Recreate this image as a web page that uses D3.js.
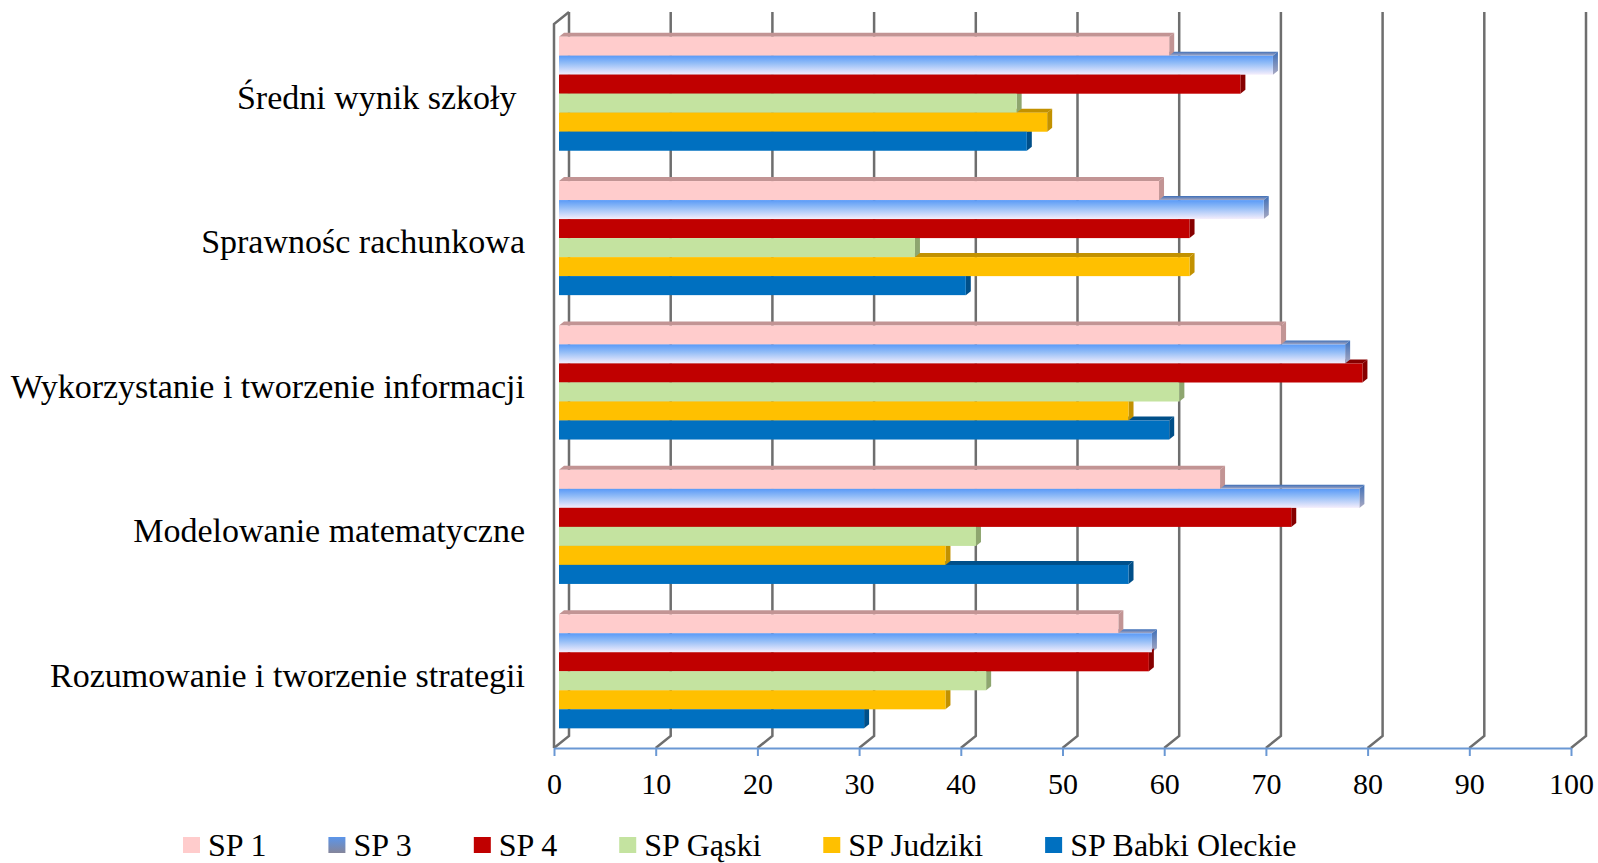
<!DOCTYPE html>
<html>
<head>
<meta charset="utf-8">
<script src="https://cdn.jsdelivr.net/npm/d3@7"></script>
<style>
  body { margin: 0; background: #fff; }
  svg { display: block; font-family: "Liberation Serif", "Times New Roman", serif; }
</style>
</head>
<body>
<div id="chart"></div>
<script>
const categories = ["Średni wynik szkoły ", "Sprawnośc rachunkowa", "Wykorzystanie i tworzenie informacji", "Modelowanie matematyczne", "Rozumowanie i tworzenie strategii"];
const seriesNames = ["SP 1", "SP 3", "SP 4", "SP Gąski", "SP Judziki", "SP Babki Oleckie"];
const sp1 = [60, 59, 71, 65, 55];
const sp3 = [70.2, 69.3, 77.3, 78.7, 58.3];
const sp4 = [67, 62, 79, 72, 58];
const spGaski = [45, 35, 61, 41, 42];
const spJudziki = [48, 62, 56, 38, 38];
const spBabki = [46, 40, 60, 56, 30];
const tickValues = [0, 10, 20, 30, 40, 50, 60, 70, 80, 90, 100];

const seriesValues = [sp1, sp3, sp4, spGaski, spJudziki, spBabki];
const frontColors = ["#ffcccc", "url(#gradSp3)", "#c00000", "#c4e3a0", "#ffc000", "#0070c0"];
const sideColors = ["#c29494", "url(#gradSp3Side)", "#860000", "#8ea66f", "#c29100", "#004f89"];
const legendColors = ["#ffcccc", "url(#gradSp3Legend)", "#c00000", "#c4e3a0", "#ffc000", "#0070c0"];

const width = 1598, height = 863;
const depthX = 15, depthY = -12;   // wall depth
const barDX = 5, barDY = -4;       // bar depth

const svg = d3.select("#chart").append("svg")
    .attr("width", width)
    .attr("height", height);

const defs = svg.append("defs");
function linGrad(id, stops) {
    const g = defs.append("linearGradient").attr("id", id)
        .attr("x1", 0).attr("y1", 0).attr("x2", 0).attr("y2", 1);
    stops.forEach(s => g.append("stop").attr("offset", s[0]).attr("stop-color", s[1]));
}
linGrad("gradSp3", [["0%", "#5a9af7"], ["40%", "#93bdf7"], ["100%", "#f5eefc"]]);
linGrad("gradSp3Side", [["0%", "#3e6fb8"], ["100%", "#a9a9c2"]]);
linGrad("gradSp3Legend", [["0%", "#5b95ea"], ["100%", "#85859a"]]);

const x = d3.scaleLinear().domain([0, 100]).range([554, 1571]);
const y = d3.scaleBand().domain(categories).range([21.5, 743.5])
    .paddingInner(0.21).paddingOuter(0.105);
const ySeries = d3.scaleBand().domain(seriesNames).range([0, y.bandwidth()]);

const floorY = 748, topY = 24;

// back wall gridlines + floor diagonals
const grid = svg.append("g").attr("class", "grid")
    .attr("stroke", "#6e6e6e").attr("stroke-width", 2.5).attr("fill", "none");
grid.selectAll(".gline")
    .data(tickValues)
    .enter().append("path")
    .attr("class", "gline")
    .attr("d", d => `M${x(d)},${floorY}L${x(d) + depthX},${floorY + depthY}L${x(d) + depthX},${topY + depthY}`);
// left wall
grid.append("path")
    .attr("d", `M${x(0)},${floorY}L${x(0)},${topY}L${x(0) + depthX},${topY + depthY}`);

// bars
const barData = [];
categories.forEach((c, ci) => {
    seriesNames.forEach((s, si) => {
        barData.push({ cat: c, series: s, si: si, value: seriesValues[si][ci] });
    });
});
const bx0 = d => x(0) + barDX;
const bx1 = d => x(d.value) + barDX;
const by0 = d => y(d.cat) + ySeries(d.series);
const by1 = d => by0(d) + ySeries.bandwidth();

const bars = svg.append("g").attr("class", "bars");
// top faces
bars.selectAll(".bar-top")
    .data(barData)
    .enter().append("path")
    .attr("class", "bar-top")
    .attr("fill", d => sideColors[d.si])
    .attr("d", d => `M${bx0(d)},${by0(d)}L${bx0(d) + barDX},${by0(d) + barDY}L${bx1(d) + barDX},${by0(d) + barDY}L${bx1(d)},${by0(d)}Z`);
// side faces
bars.selectAll(".bar-side")
    .data(barData)
    .enter().append("path")
    .attr("class", "bar-side")
    .attr("fill", d => sideColors[d.si])
    .attr("d", d => `M${bx1(d)},${by0(d)}L${bx1(d) + barDX},${by0(d) + barDY}L${bx1(d) + barDX},${by1(d) + barDY}L${bx1(d)},${by1(d)}Z`);
// front faces
bars.selectAll(".bar-front")
    .data(barData)
    .enter().append("rect")
    .attr("class", "bar-front")
    .attr("x", bx0)
    .attr("y", by0)
    .attr("width", d => bx1(d) - bx0(d))
    .attr("height", ySeries.bandwidth())
    .attr("fill", d => frontColors[d.si]);

// x axis
const axis = svg.append("g")
    .attr("class", "x-axis")
    .attr("transform", `translate(0,${floorY})`)
    .call(d3.axisBottom(x).tickValues(tickValues).tickSize(8).tickSizeOuter(0));
axis.select(".domain").attr("stroke", "#6a98d4").attr("stroke-width", 2);
axis.selectAll(".tick line").attr("stroke", "#6a98d4").attr("stroke-width", 2);
axis.selectAll(".tick text")
    .attr("y", 46)
    .attr("dy", null)
    .attr("fill", "#000")
    .style("font-size", "30px")
    .style("font-family", "Liberation Serif, serif");

// category labels
svg.append("g").attr("class", "cat-labels")
    .selectAll("text")
    .data(categories)
    .enter().append("text")
    .attr("x", 525)
    .attr("y", d => y(d) + y.bandwidth() / 2)
    .attr("dy", "0.45em")
    .attr("text-anchor", "end")
    .style("white-space", "pre")
    .style("font-size", "34px")
    .attr("fill", "#000")
    .text(d => d);

// legend
const legend = svg.append("g").attr("class", "legend");
const items = legend.selectAll(".legend-item")
    .data(seriesNames)
    .enter().append("g")
    .attr("class", "legend-item");
items.append("rect")
    .attr("width", 17)
    .attr("height", 16)
    .attr("y", 837)
    .attr("fill", (d, i) => legendColors[i]);
items.append("text")
    .attr("x", 25)
    .attr("y", 856)
    .style("font-size", "32px")
    .attr("fill", "#000")
    .text(d => d);
let lx = 183;
items.each(function () {
    const g = d3.select(this);
    g.attr("transform", `translate(${lx},0)`);
    lx += 25 + g.select("text").node().getComputedTextLength() + 62;
});
</script>
</body>
</html>
